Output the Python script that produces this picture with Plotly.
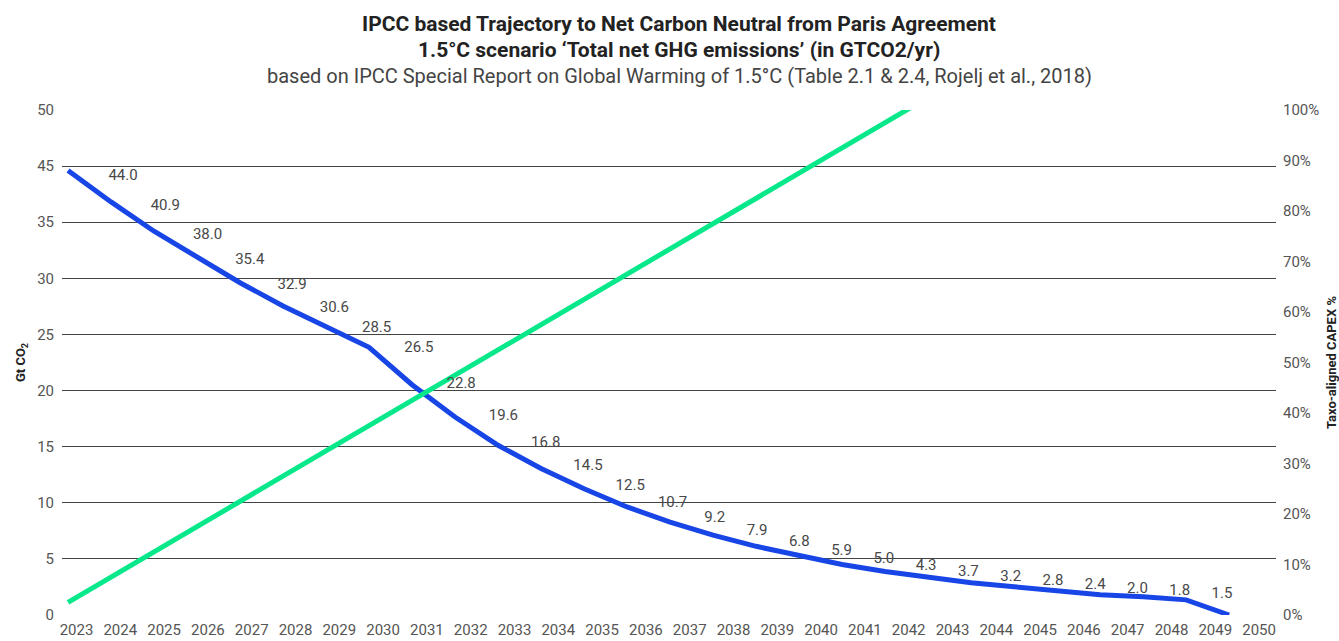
import plotly.graph_objects as go

# --- data -------------------------------------------------------------
YEARS = list(range(2023, 2051))

# Total net GHG emissions (Gt CO2 / yr), 1.5°C pathway; reaches net zero in 2050
EMISSIONS = [44.0, 40.9, 38.0, 35.4, 32.9, 30.6, 28.5, 26.5, 22.8, 19.6,
             16.8, 14.5, 12.5, 10.7, 9.2, 7.9, 6.8, 5.9, 5.0, 4.3,
             3.7, 3.2, 2.8, 2.4, 2.0, 1.8, 1.5, 0.0]

# Years that carry a value label (all but the final net-zero year)
LABEL_YEARS = YEARS[:-1]
LABEL_VALUES = EMISSIONS[:-1]

# Taxonomy-aligned CAPEX share (%), 2023-2043
CAPEX_YEARS = list(range(2023, 2044))
CAPEX_PCT = [2.5, 7.5, 12.5, 17.5, 22.5, 27.5, 32.5, 37.5, 42.5, 47.5,
             52.5, 57.5, 62.5, 67.5, 72.5, 77.5, 82.5, 87.5, 92.5, 97.5, 102.5]

# Axis tick labels
LEFT_TICK_TEXT = ["0", "5", "10", "15", "20", "25", "30", "35", "45", "50"]
RIGHT_TICKS = [0, 10, 20, 30, 40, 50, 60, 70, 80, 90, 100]

TITLE_LINES = [
    "<b>IPCC based Trajectory to Net Carbon Neutral from Paris Agreement</b>",
    "<b>1.5°C scenario ‘Total net GHG emissions’ (in GTCO2/yr)</b>",
    "based on IPCC Special Report on Global Warming of 1.5°C (Table 2.1 & 2.4, Rojelj et al., 2018)",
]

# --- styling ------------------------------------------------------------
FONT = "Roboto, Arial, sans-serif"
BLUE = "#1846e6"
GREEN = "#07e88a"
GRID = "#444444"
TICK_GRAY = "#555555"

n_left = len(LEFT_TICK_TEXT) - 1
left_tickvals = [50 * k / n_left for k in range(n_left + 1)]

fig = go.Figure()

# base subplot carrying the year tick axis (no marks of its own)
fig.add_trace(go.Scatter(
    x=[], y=[], mode="lines", xaxis="x", yaxis="y",
    hoverinfo="skip", showlegend=False,
))

# emissions trajectory (data x-scale on x2)
fig.add_trace(go.Scatter(
    x=YEARS, y=EMISSIONS, mode="lines",
    line=dict(color=BLUE, width=5),
    xaxis="x2", yaxis="y", hoverinfo="x+y", showlegend=False,
))

# CAPEX share on the right-hand % axis
fig.add_trace(go.Scatter(
    x=CAPEX_YEARS, y=CAPEX_PCT, mode="lines",
    line=dict(color=GREEN, width=5),
    xaxis="x2", yaxis="y2", hoverinfo="x+y", showlegend=False,
))

# value labels, placed on their own overlay scale
fig.add_trace(go.Scatter(
    x=LABEL_YEARS, y=LABEL_VALUES, mode="text",
    text=[f"{v:.1f}" for v in LABEL_VALUES],
    textposition="middle center",
    textfont=dict(family=FONT, size=15, color="#484848"),
    xaxis="x3", yaxis="y3", hoverinfo="skip", showlegend=False,
))

for i, line in enumerate(TITLE_LINES):
    fig.add_annotation(
        text=line, xref="paper", yref="paper",
        x=(679 - 62) / 1214, y=(615 - (24 + 26 * i)) / 505,
        xanchor="center", yanchor="middle", showarrow=False,
        font=dict(family=FONT, size=21 if i < 2 else 20,
                  color="#222222" if i < 2 else "#444444"),
    )

fig.update_layout(
    width=1339, height=641,
    margin=dict(l=62, r=63, t=110, b=26, autoexpand=False),
    paper_bgcolor="white", plot_bgcolor="white",
    font=dict(family=FONT, size=15, color=TICK_GRAY),
    showlegend=False,
    # year tick labels
    xaxis=dict(range=[2022.669, 2050.386], anchor="y", side="bottom",
               tickmode="array", tickvals=YEARS, ticktext=[str(y) for y in YEARS],
               showgrid=False, zeroline=False, showline=False, ticks="",
               ticklabelstandoff=4, automargin=False,
               tickfont=dict(family=FONT, size=15, color=TICK_GRAY)),
    # data axis for the two lines
    xaxis2=dict(range=[2022.86, 2051.09], overlaying="x", anchor="y", visible=False),
    # value-label placement axis
    xaxis3=dict(range=[2021.557, 2050.277], overlaying="x", anchor="y", visible=False),
    yaxis=dict(range=[0, 50], tickmode="array", tickvals=left_tickvals,
               ticktext=LEFT_TICK_TEXT, showgrid=True, gridcolor=GRID, gridwidth=1,
               zeroline=False, showline=False, ticks="", ticklabelstandoff=7,
               automargin=False,
               tickfont=dict(family=FONT, size=15, color=TICK_GRAY),
               title=dict(text="<b>Gt CO<sub>2</sub></b>", standoff=8,
                          font=dict(family=FONT, size=13, color="#222222"))),
    yaxis2=dict(range=[0, 100], overlaying="y", side="right", anchor="x",
                tickmode="array", tickvals=RIGHT_TICKS,
                ticktext=[f"{t}%" for t in RIGHT_TICKS],
                showgrid=False, zeroline=False, showline=False, ticks="",
                ticklabelstandoff=6, automargin=False,
                tickfont=dict(family=FONT, size=15, color=TICK_GRAY),
                title=dict(text="<b>Taxo-aligned CAPEX %</b>", standoff=18,
                           font=dict(family=FONT, size=13, color="#222222"))),
    yaxis3=dict(range=[-0.63, 50.72], overlaying="y", anchor="x", visible=False),
)

fig.write_html("out.html")
